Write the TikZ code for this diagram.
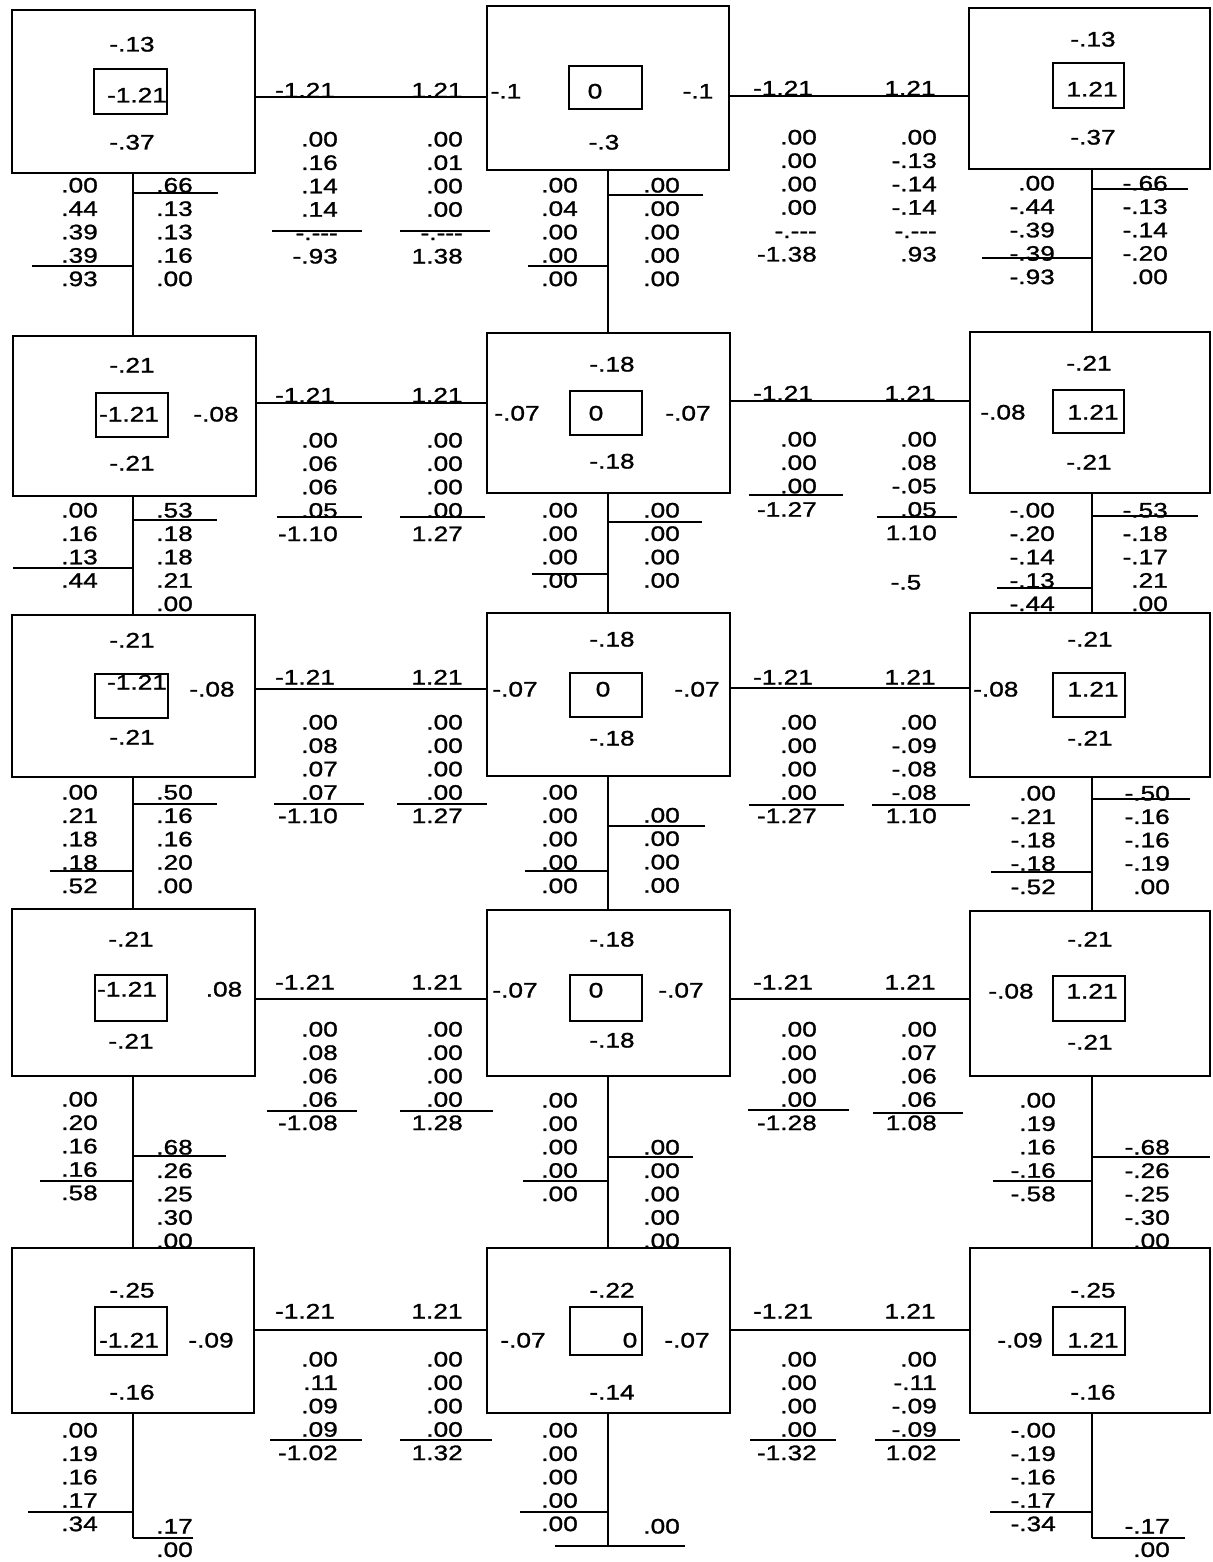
\documentclass[tikz,border=0pt]{standalone}
\usepackage{fontspec}
\setmainfont{Liberation Sans}[FakeStretch=1.25,FakeBold=1.2]
\usetikzlibrary{fit}
\newcommand\numcol[4]{\foreach \v [count=\i] in {#4} {\node[num] (#3-\i) at (#1,{#2+(\i-1)*23.4}) {\v};}}
\newcommand\trdash{-.-{}-{}-}
\begin{document}
\begin{tikzpicture}[x=1pt,y=-1pt,
  num/.style={anchor=east,inner sep=0pt,text height=15pt,text depth=0pt,font=\fontsize{21}{24}\selectfont},
  lab/.style={num,anchor=center},
  bigbox/.style={draw,line width=1.6pt,inner sep=0pt},
  ibox/.style={draw,line width=1.3pt,inner sep=0pt},
  conn/.style={line width=1.4pt},
  rl/.style={line width=1.1pt}]
\fill[white] (0,0) rectangle (1212,1562);
\useasboundingbox (0,0) rectangle (1212,1562);
% helper coordinates
\coordinate (v1) at (133,0);
\coordinate (v2) at (608,0);
\coordinate (v3) at (1092,0);
\coordinate (h1a) at (0,97);  \coordinate (h1b) at (0,96);
\coordinate (h2a) at (0,403); \coordinate (h2b) at (0,401);
\coordinate (h3a) at (0,689); \coordinate (h3b) at (0,688);
\coordinate (h4a) at (0,999); \coordinate (h4b) at (0,999);
\coordinate (h5a) at (0,1330); \coordinate (h5b) at (0,1330);
\coordinate (e1) at (133,1538);
\coordinate (e2) at (608,1546);
\coordinate (e3) at (1092,1538);

% ================= ROW A =================
\node[bigbox,fit={(12,10) (255,173)}] (A1) {};
\node[bigbox,fit={(487,6) (729,170)}] (A2) {};
\node[bigbox,fit={(969,8) (1210,169)}] (A3) {};
\node[ibox,fit={(94,69) (167,114)}] (A1i) {};
\node[ibox,fit={(569,66) (642,109)}] (A2i) {};
\node[ibox,fit={(1053,63) (1124,108)}] (A3i) {};
\node[lab] (A1t) at (132,44) {-.13};
\node[lab] (A1c) at (137,95) {-1.21};
\node[lab] (A1b) at (132,142) {-.37};
\node[lab] (A2l) at (506,91) {-.1};
\node[lab] (A2c) at (595,91) {0};
\node[lab] (A2r) at (698,91) {-.1};
\node[lab] (A2b) at (604,142) {-.3};
\node[lab] (A3t) at (1093,39) {-.13};
\node[lab] (A3c) at (1092,89) {1.21};
\node[lab] (A3b) at (1093,137) {-.37};
% horizontal connectors
\draw[conn] (A1.east |- h1a) -- (A2.west |- h1a);
\draw[conn] (A2.east |- h1b) -- (A3.west |- h1b);
\node[lab] (HA1l) at (305,90) {-1.21};
\node[lab] (HA1r) at (437,90) {1.21};
\node[lab] (HA2l) at (783,88) {-1.21};
\node[lab] (HA2r) at (910,88) {1.21};
\numcol{338}{139}{ha1}{.00,.16,.14,.14,\trdash,-.93}
\numcol{463}{139}{ha2}{.00,.01,.00,.00,\trdash,1.38}
\draw[rl] (272,231) -- (362,231);
\draw[rl] (400,231) -- (490,231);
\numcol{817}{137}{ha3}{.00,.00,.00,.00,\trdash,-1.38}
\numcol{937}{137}{ha4}{.00,-.13,-.14,-.14,\trdash,.93}
% vertical A->B
\numcol{98}{185}{va1}{.00,.44,.39,.39,.93}
\numcol{193}{185}{va2}{.66,.13,.13,.16,.00}
\draw[rl] (32,266) -- (133,266);
\draw[rl] (133,193) -- (218,193);
\numcol{578}{185}{va3}{.00,.04,.00,.00,.00}
\numcol{680}{185}{va4}{.00,.00,.00,.00,.00}
\draw[rl] (528,266) -- (608,266);
\draw[rl] (608,195) -- (703,195);
\numcol{1055}{183}{va5}{.00,-.44,-.39,-.39,-.93}
\numcol{1168}{183}{va6}{-.66,-.13,-.14,-.20,.00}
\draw[rl] (982,258) -- (1092,258);
\draw[rl] (1092,189) -- (1188,189);

% ================= ROW B =================
\node[bigbox,fit={(13,336) (256,496)}] (B1) {};
\node[bigbox,fit={(487,333) (730,493)}] (B2) {};
\node[bigbox,fit={(970,332) (1210,493)}] (B3) {};
\node[ibox,fit={(96,393) (168,437)}] (B1i) {};
\node[ibox,fit={(570,391) (642,435)}] (B2i) {};
\node[ibox,fit={(1053,390) (1124,433)}] (B3i) {};
\node[lab] (B1t) at (132,365) {-.21};
\node[lab] (B1c) at (129,414) {-1.21};
\node[lab] (B1r) at (216,414) {-.08};
\node[lab] (B1b) at (132,463) {-.21};
\node[lab] (B2t) at (612,364) {-.18};
\node[lab] (B2l) at (517,413) {-.07};
\node[lab] (B2c) at (596,413) {0};
\node[lab] (B2r) at (688,413) {-.07};
\node[lab] (B2b) at (612,461) {-.18};
\node[lab] (B3t) at (1089,363) {-.21};
\node[lab] (B3l) at (1003,412) {-.08};
\node[lab] (B3c) at (1093,412) {1.21};
\node[lab] (B3b) at (1089,462) {-.21};
\draw[conn] (A1.south -| v1) -- (B1.north -| v1);
\draw[conn] (A2.south -| v2) -- (B2.north -| v2);
\draw[conn] (A3.south -| v3) -- (B3.north -| v3);
\draw[conn] (B1.east |- h2a) -- (B2.west |- h2a);
\draw[conn] (B2.east |- h2b) -- (B3.west |- h2b);
\node[lab] (HB1l) at (305,395) {-1.21};
\node[lab] (HB1r) at (437,395) {1.21};
\node[lab] (HB2l) at (783,393) {-1.21};
\node[lab] (HB2r) at (910,393) {1.21};
\numcol{338}{440}{hb1}{.00,.06,.06,.05,-1.10}
\numcol{463}{440}{hb2}{.00,.00,.00,.00,1.27}
\draw[rl] (277,517) -- (362,517);
\draw[rl] (400,517) -- (485,517);
\numcol{817}{439}{hb3}{.00,.00,.00,-1.27}
\numcol{937}{439}{hb4}{.00,.08,-.05,.05,1.10}
\draw[rl] (749,495) -- (843,495);
\draw[rl] (877,517) -- (957,517);
\node[lab] (hb5) at (906,582) {-.5};
% vertical B->C
\numcol{98}{510}{vb1}{.00,.16,.13,.44}
\numcol{193}{510}{vb2}{.53,.18,.18,.21,.00}
\draw[rl] (13,568) -- (133,568);
\draw[rl] (133,520) -- (217,520);
\numcol{578}{510}{vb3}{.00,.00,.00,.00}
\numcol{680}{510}{vb4}{.00,.00,.00,.00}
\draw[rl] (532,574) -- (608,574);
\draw[rl] (608,522) -- (702,522);
\numcol{1055}{510}{vb5}{-.00,-.20,-.14,-.13,-.44}
\numcol{1168}{510}{vb6}{-.53,-.18,-.17,.21,.00}
\draw[rl] (997,588) -- (1092,588);
\draw[rl] (1092,516) -- (1198,516);

% ================= ROW C =================
\node[bigbox,fit={(12,615) (255,777)}] (C1) {};
\node[bigbox,fit={(487,613) (730,776)}] (C2) {};
\node[bigbox,fit={(970,613) (1210,777)}] (C3) {};
\node[ibox,fit={(95,674) (168,718)}] (C1i) {};
\node[ibox,fit={(570,673) (642,717)}] (C2i) {};
\node[ibox,fit={(1053,673) (1125,717)}] (C3i) {};
\node[lab] (C1t) at (132,640) {-.21};
\node[lab] (C1c) at (137,682) {-1.21};
\node[lab] (C1r) at (212,689) {-.08};
\node[lab] (C1b) at (132,737) {-.21};
\node[lab] (C2t) at (612,639) {-.18};
\node[lab] (C2l) at (515,689) {-.07};
\node[lab] (C2c) at (603,689) {0};
\node[lab] (C2r) at (697,689) {-.07};
\node[lab] (C2b) at (612,738) {-.18};
\node[lab] (C3t) at (1090,639) {-.21};
\node[num,anchor=west] (C3l) at (973,689) {-.08};
\node[lab] (C3c) at (1093,689) {1.21};
\node[lab] (C3b) at (1090,738) {-.21};
\draw[conn] (B1.south -| v1) -- (C1.north -| v1);
\draw[conn] (B2.south -| v2) -- (C2.north -| v2);
\draw[conn] (B3.south -| v3) -- (C3.north -| v3);
\draw[conn] (C1.east |- h3a) -- (C2.west |- h3a);
\draw[conn] (C2.east |- h3b) -- (C3.west |- h3b);
\node[lab] (HC1l) at (305,677) {-1.21};
\node[lab] (HC1r) at (437,677) {1.21};
\node[lab] (HC2l) at (783,677) {-1.21};
\node[lab] (HC2r) at (910,677) {1.21};
\numcol{338}{722}{hc1}{.00,.08,.07,.07,-1.10}
\numcol{463}{722}{hc2}{.00,.00,.00,.00,1.27}
\draw[rl] (274,804) -- (364,804);
\draw[rl] (397,804) -- (487,804);
\numcol{817}{722}{hc3}{.00,.00,.00,.00,-1.27}
\numcol{937}{722}{hc4}{.00,-.09,-.08,-.08,1.10}
\draw[rl] (749,805) -- (844,805);
\draw[rl] (872,805) -- (970,805);
% vertical C->D
\numcol{98}{792}{vc1}{.00,.21,.18,.18,.52}
\numcol{193}{792}{vc2}{.50,.16,.16,.20,.00}
\draw[rl] (50,871) -- (133,871);
\draw[rl] (133,804) -- (217,804);
\numcol{578}{792}{vc3}{.00,.00,.00,.00,.00}
\numcol{680}{815}{vc4}{.00,.00,.00,.00}
\draw[rl] (525,871) -- (608,871);
\draw[rl] (608,826) -- (705,826);
\numcol{1056}{793}{vc5}{.00,-.21,-.18,-.18,-.52}
\numcol{1170}{793}{vc6}{-.50,-.16,-.16,-.19,.00}
\draw[rl] (991,872) -- (1092,872);
\draw[rl] (1092,799) -- (1190,799);

% ================= ROW D =================
\node[bigbox,fit={(12,909) (255,1076)}] (D1) {};
\node[bigbox,fit={(487,910) (730,1076)}] (D2) {};
\node[bigbox,fit={(970,911) (1210,1076)}] (D3) {};
\node[ibox,fit={(95,975) (167,1021)}] (D1i) {};
\node[ibox,fit={(570,975) (642,1021)}] (D2i) {};
\node[ibox,fit={(1053,976) (1125,1021)}] (D3i) {};
\node[lab] (D1t) at (131,939) {-.21};
\node[lab] (D1c) at (127,989) {-1.21};
\node[lab] (D1r) at (224,989) {.08};
\node[lab] (D1b) at (131,1041) {-.21};
\node[lab] (D2t) at (612,939) {-.18};
\node[lab] (D2l) at (515,990) {-.07};
\node[lab] (D2c) at (596,990) {0};
\node[lab] (D2r) at (681,990) {-.07};
\node[lab] (D2b) at (612,1040) {-.18};
\node[lab] (D3t) at (1090,939) {-.21};
\node[lab] (D3l) at (1011,991) {-.08};
\node[lab] (D3c) at (1092,991) {1.21};
\node[lab] (D3b) at (1090,1042) {-.21};
\draw[conn] (C1.south -| v1) -- (D1.north -| v1);
\draw[conn] (C2.south -| v2) -- (D2.north -| v2);
\draw[conn] (C3.south -| v3) -- (D3.north -| v3);
\draw[conn] (D1.east |- h4a) -- (D2.west |- h4a);
\draw[conn] (D2.east |- h4b) -- (D3.west |- h4b);
\node[lab] (HD1l) at (305,982) {-1.21};
\node[lab] (HD1r) at (437,982) {1.21};
\node[lab] (HD2l) at (783,982) {-1.21};
\node[lab] (HD2r) at (910,982) {1.21};
\numcol{338}{1029}{hd1}{.00,.08,.06,.06,-1.08}
\numcol{463}{1029}{hd2}{.00,.00,.00,.00,1.28}
\draw[rl] (267,1111) -- (357,1111);
\draw[rl] (400,1111) -- (493,1111);
\numcol{817}{1029}{hd3}{.00,.00,.00,.00,-1.28}
\numcol{937}{1029}{hd4}{.00,.07,.06,.06,1.08}
\draw[rl] (748,1110) -- (849,1110);
\draw[rl] (873,1113) -- (963,1113);
% vertical D->E
\numcol{98}{1099}{vd1}{.00,.20,.16,.16,.58}
\numcol{193}{1147}{vd2}{.68,.26,.25,.30,.00}
\draw[rl] (40,1181) -- (133,1181);
\draw[rl] (133,1156) -- (226,1156);
\numcol{578}{1100}{vd3}{.00,.00,.00,.00,.00}
\numcol{680}{1147}{vd4}{.00,.00,.00,.00,.00}
\draw[rl] (523,1181) -- (608,1181);
\draw[rl] (608,1157) -- (693,1157);
\numcol{1056}{1100}{vd5}{.00,.19,.16,-.16,-.58}
\numcol{1170}{1147}{vd6}{-.68,-.26,-.25,-.30,.00}
\draw[rl] (993,1181) -- (1092,1181);
\draw[rl] (1092,1157) -- (1210,1157);

% ================= ROW E =================
\node[bigbox,fit={(12,1248) (254,1413)}] (E1) {};
\node[bigbox,fit={(487,1248) (730,1413)}] (E2) {};
\node[bigbox,fit={(970,1248) (1210,1413)}] (E3) {};
\node[ibox,fit={(95,1307) (167,1355)}] (E1i) {};
\node[ibox,fit={(570,1307) (642,1355)}] (E2i) {};
\node[ibox,fit={(1053,1307) (1125,1355)}] (E3i) {};
\node[lab] (E1t) at (132,1290) {-.25};
\node[lab] (E1c) at (129,1340) {-1.21};
\node[lab] (E1r) at (211,1340) {-.09};
\node[lab] (E1b) at (132,1392) {-.16};
\node[lab] (E2t) at (612,1290) {-.22};
\node[lab] (E2l) at (523,1340) {-.07};
\node[lab] (E2c) at (630,1340) {0};
\node[lab] (E2r) at (687,1340) {-.07};
\node[lab] (E2b) at (612,1392) {-.14};
\node[lab] (E3t) at (1093,1290) {-.25};
\node[lab] (E3l) at (1020,1340) {-.09};
\node[lab] (E3c) at (1093,1340) {1.21};
\node[lab] (E3b) at (1093,1392) {-.16};
\draw[conn] (D1.south -| v1) -- (E1.north -| v1);
\draw[conn] (D2.south -| v2) -- (E2.north -| v2);
\draw[conn] (D3.south -| v3) -- (E3.north -| v3);
\draw[conn] (E1.east |- h5a) -- (E2.west |- h5a);
\draw[conn] (E2.east |- h5b) -- (E3.west |- h5b);
\node[lab] (HE1l) at (305,1311) {-1.21};
\node[lab] (HE1r) at (437,1311) {1.21};
\node[lab] (HE2l) at (783,1311) {-1.21};
\node[lab] (HE2r) at (910,1311) {1.21};
\numcol{338}{1359}{he1}{.00,.11,.09,.09,-1.02}
\numcol{463}{1359}{he2}{.00,.00,.00,.00,1.32}
\draw[rl] (270,1440) -- (362,1440);
\draw[rl] (400,1440) -- (492,1440);
\numcol{817}{1359}{he3}{.00,.00,.00,.00,-1.32}
\numcol{937}{1359}{he4}{.00,-.11,-.09,-.09,1.02}
\draw[rl] (750,1440) -- (836,1440);
\draw[rl] (875,1440) -- (960,1440);
% bottom stubs
\draw[conn] (E1.south -| v1) -- (e1);
\draw[conn] (E2.south -| v2) -- (e2);
\draw[conn] (E3.south -| v3) -- (e3);
\numcol{98}{1430}{ve1}{.00,.19,.16,.17,.34}
\numcol{193}{1526}{ve2}{.17,.00}
\draw[rl] (28,1512) -- (133,1512);
\draw[rl] (133,1538) -- (193,1538);
\numcol{578}{1430}{ve3}{.00,.00,.00,.00,.00}
\numcol{680}{1526}{ve4}{.00}
\draw[rl] (520,1512) -- (608,1512);
\draw[rl] (555,1546) -- (685,1546);
\numcol{1056}{1430}{ve5}{-.00,-.19,-.16,-.17,-.34}
\numcol{1170}{1526}{ve6}{-.17,.00}
\draw[rl] (990,1512) -- (1092,1512);
\draw[rl] (1092,1538) -- (1185,1538);
\end{tikzpicture}
\end{document}
